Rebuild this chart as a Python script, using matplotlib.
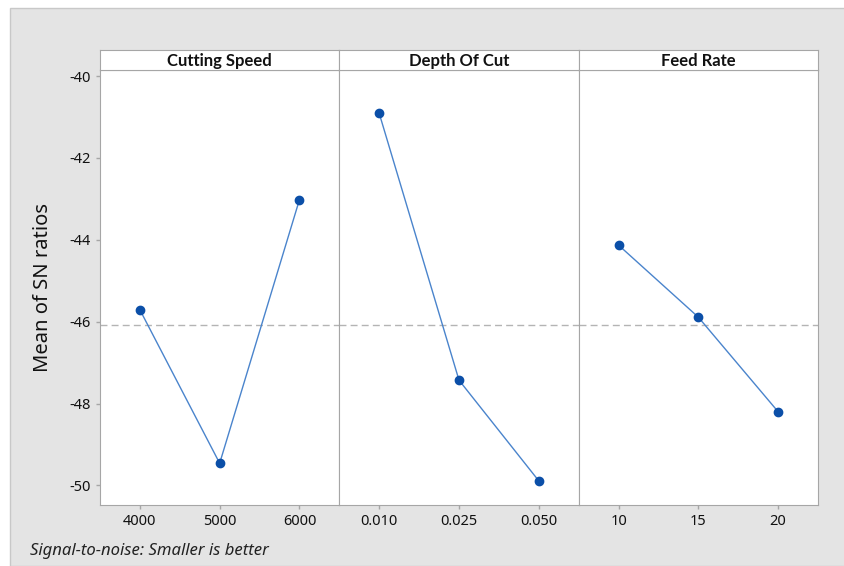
import matplotlib.pyplot as plt
from matplotlib.patches import Rectangle

plt.rcParams['font.family'] = ['Noto Sans', 'DejaVu Sans']

factors = ['Cutting Speed', 'Depth Of Cut', 'Feed Rate']
speed_levels = ['4000', '5000', '6000']
depth_levels = ['0.010', '0.025', '0.050']
feed_levels = ['10', '15', '20']
speed_sn = [-45.71, -49.46, -43.02]
depth_sn = [-40.91, -47.43, -49.89]
feed_sn = [-44.13, -45.89, -48.20]
grand_mean = -46.07
y_ticks = [-40, -42, -44, -46, -48, -50]

levels = [speed_levels, depth_levels, feed_levels]
values = [speed_sn, depth_sn, feed_sn]

W, H = 845, 566
fig = plt.figure(figsize=(W / 100, H / 100), dpi=100)
fig.patch.set_facecolor('white')
fig.patches.append(Rectangle((10 / W, 0), 1, (H - 8) / H, transform=fig.transFigure,
                             facecolor='#e4e4e4', edgecolor='#c8c8c8', lw=1, zorder=-10))

left, right = 100, 818
top_plot, bottom_plot, top_head = 70, 505, 50
pw = (right - left) / 3
edge = '#a6a6a6'

for i in range(3):
    x0 = left + i * pw
    ax = fig.add_axes([x0 / W, (H - bottom_plot) / H, pw / W, (bottom_plot - top_plot) / H])
    ax.set_facecolor('white')
    xs = range(len(levels[i]))
    ax.axhline(grand_mean, color='#b4b4b4', lw=1, ls=(0, (5, 3)), zorder=1)
    ax.plot(xs, values[i], color='#4a84cc', lw=1, zorder=2)
    ax.plot(xs, values[i], 'o', color='#0b4fa8', ms=6, zorder=3)
    ax.set_xlim(-0.5, 2.5)
    ax.set_ylim(-50.48, -39.85)
    ax.set_xticks(list(xs))
    ax.set_xticklabels(levels[i], fontsize=10.5, color='#111111')
    for s in ax.spines.values():
        s.set_color(edge)
    ax.tick_params(axis='both', colors=edge, labelcolor='#111111', length=3, width=1)
    if i == 0:
        ax.set_yticks(y_ticks)
        ax.set_yticklabels([str(t) for t in y_ticks], fontsize=10.5)
        ax.set_ylabel('Mean of SN ratios', fontsize=14.5, labelpad=12, color='#111111')
    else:
        ax.set_yticks([])
    # header strip
    hx = fig.add_axes([x0 / W, (H - top_plot) / H, pw / W, (top_plot - top_head) / H])
    hx.set_facecolor('white')
    hx.set_xticks([])
    hx.set_yticks([])
    for s in hx.spines.values():
        s.set_color(edge)
    hx.text(0.5, 0.45, factors[i], ha='center', va='center', fontsize=12,
            fontweight='bold', family=['Lato', 'DejaVu Sans'], color='#111111',
            transform=hx.transAxes)

fig.text(30 / W, (H - 551) / H, 'Signal-to-noise: Smaller is better', fontsize=12,
         style='italic', ha='left', va='center', color='#222222')

fig.savefig('out.png', dpi=100)
